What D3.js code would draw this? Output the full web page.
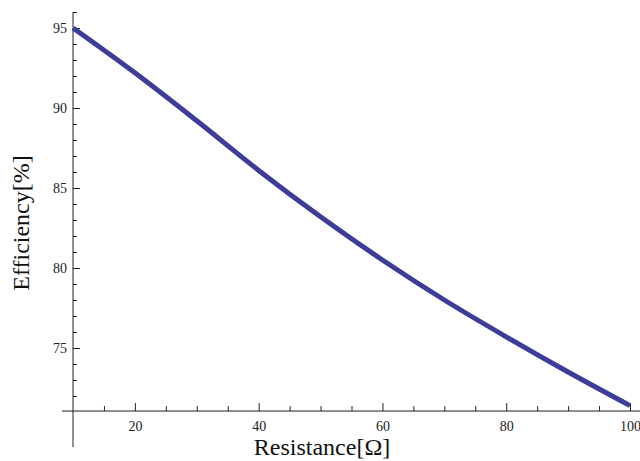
<!DOCTYPE html>
<html>
<head>
<meta charset="utf-8">
<script src="https://cdn.jsdelivr.net/npm/d3@7"></script>
<style>
  body { margin: 0; background: #fff; }
  .tick text { font-family: "Liberation Serif", serif; font-size: 14px; fill: #222; }
  .axis-title { font-family: "Liberation Serif", serif; font-size: 24px; fill: #111; }
</style>
</head>
<body>
<div class="visual"></div>
<script>
// Data
const resistance = [10, 20, 30, 40, 50, 60, 70, 80, 90, 100];
const efficiency = [95.0, 92.2, 89.2, 86.1, 83.2, 80.5, 78.0, 75.7, 73.5, 71.4];
const xMajorTicks = [20, 40, 60, 80, 100];
const xMinorTicks = [15, 25, 30, 35, 45, 50, 55, 65, 70, 75, 85, 90, 95];
const yMajorTicks = [75, 80, 85, 90, 95];
const yMinorTicks = [72, 73, 74, 76, 77, 78, 79, 81, 82, 83, 84, 86, 87, 88, 89, 91, 92, 93, 94, 96];

function createLineChart() {
    const width = 640, height = 461;
    const xOrigin = 10, yOrigin = 71.06;

    const svg = d3.select("div.visual").append("svg")
        .attr("width", width)
        .attr("height", height);

    // Skalor
    const x = d3.scaleLinear().domain([10, 100]).range([73, 630]);
    const y = d3.scaleLinear().domain([75, 95]).range([348, 28]);

    const points = resistance.map((r, i) => ({ r: r, e: efficiency[i] }));

    // Axellinjer
    svg.append("line")
        .attr("x1", x(8.2)).attr("x2", width)
        .attr("y1", y(yOrigin)).attr("y2", y(yOrigin))
        .attr("stroke", "#222").attr("stroke-width", 1);
    svg.append("line")
        .attr("x1", x(xOrigin)).attr("x2", x(xOrigin))
        .attr("y1", y(96)).attr("y2", y(68.8))
        .attr("stroke", "#222").attr("stroke-width", 1);

    // x-axel
    const gx = svg.append("g").attr("transform", `translate(0,${y(yOrigin)})`);
    gx.append("g")
        .call(d3.axisBottom(x).tickValues(xMajorTicks).tickSizeInner(-8).tickSizeOuter(0).tickPadding(10));
    gx.append("g")
        .call(d3.axisBottom(x).tickValues(xMinorTicks).tickFormat("").tickSizeInner(-5).tickSizeOuter(0));

    // y-axel
    const gy = svg.append("g").attr("transform", `translate(${x(xOrigin)},0)`);
    gy.append("g")
        .call(d3.axisLeft(y).tickValues(yMajorTicks).tickSizeInner(-7).tickSizeOuter(0).tickPadding(6));
    gy.append("g")
        .call(d3.axisLeft(y).tickValues(yMinorTicks).tickFormat("").tickSizeInner(-4).tickSizeOuter(0));

    svg.selectAll(".domain").remove();
    svg.selectAll(".tick line").attr("stroke", "#222");

    // Kurva
    const line = d3.line()
        .x(d => x(d.r))
        .y(d => y(d.e))
        .curve(d3.curveCatmullRom);

    svg.append("path")
        .datum(points)
        .attr("fill", "none")
        .attr("stroke", "#3d3d99")
        .attr("stroke-width", 5)
        .attr("d", line);

    // Axeltitlar
    svg.append("text")
        .attr("class", "axis-title")
        .attr("x", 322)
        .attr("y", 455)
        .attr("text-anchor", "middle")
        .text("Resistance[Ω]");

    svg.append("text")
        .attr("class", "axis-title")
        .attr("transform", "translate(29,223) rotate(-90)")
        .attr("text-anchor", "middle")
        .text("Efficiency[%]");
}

createLineChart();
</script>
</body>
</html>
